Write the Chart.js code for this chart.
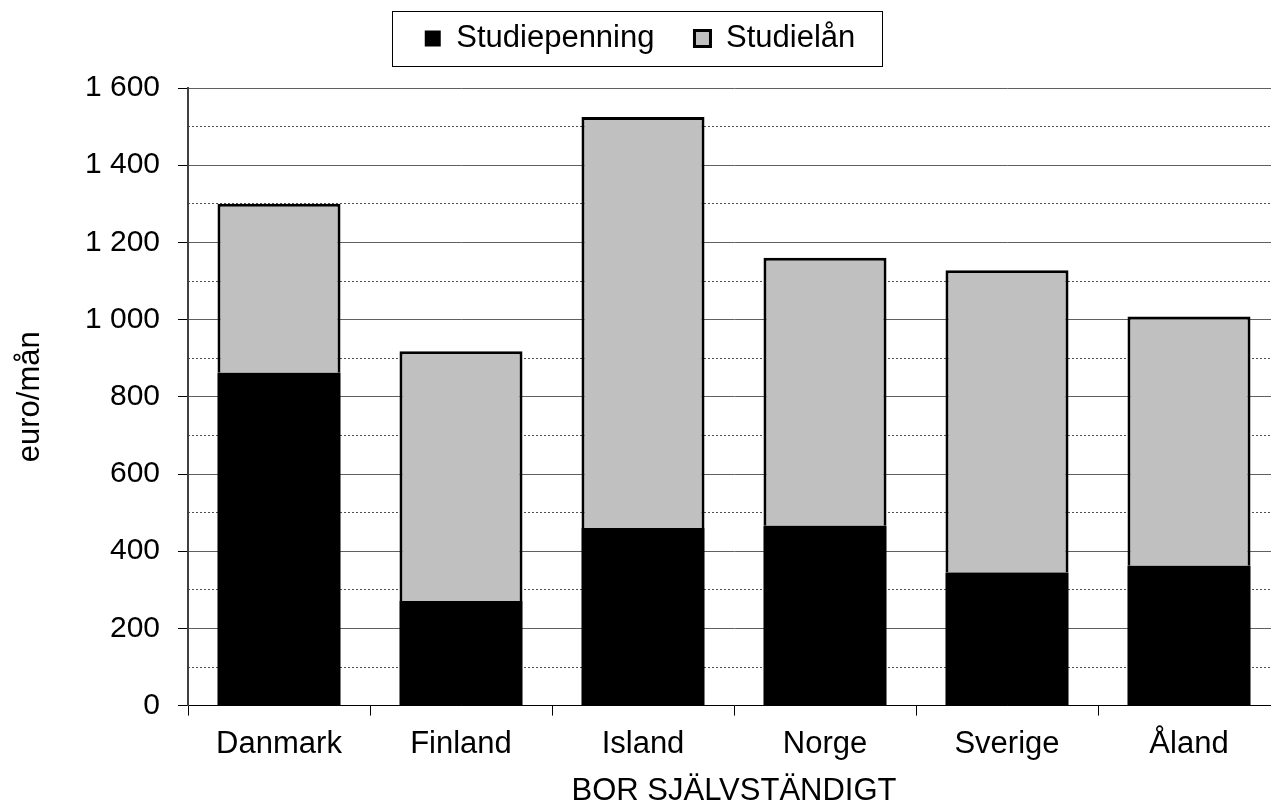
<!DOCTYPE html>
<html lang="sv">
<head>
<meta charset="utf-8">
<title>Studiestöd – bor självständigt</title>
<script src="https://cdn.jsdelivr.net/npm/chart.js@4.4.1/dist/chart.umd.min.js"></script>
<style>
  html, body { margin: 0; padding: 0; background: #fff; overflow: hidden; }
  #wrap { width: 1280px; height: 805px; }
</style>
</head>
<body>
<div id="wrap"><canvas id="studyChart" width="1280" height="805"></canvas></div>
<script>
// Data (euro per month)
const countries = ['Danmark', 'Finland', 'Island', 'Norge', 'Sverige', 'Åland'];
const studiepenning = [862, 271, 460, 466, 345, 362];
const studielan = [438, 647, 1065, 694, 783, 646];

const seriesNames = ['Studiepenning', 'Studielån'];
const yTitle = 'euro/mån';
const xTitle = 'BOR SJÄLVSTÄNDIGT';
const yMin = 0;
const yMax = 1600;
const yMajorStep = 200;
const yMinorStep = 100;

Chart.defaults.font.family = "'Liberation Sans', Arial, sans-serif";
Chart.defaults.font.size = 31;
Chart.defaults.color = '#000';

// Thousands with a space, like "1 600"
function formatTick(value) {
  return String(value).replace(/\B(?=(\d{3})+(?!\d))/g, ' ');
}

// Move legend up a bit and draw a frame around it
const legendFrame = {
  id: 'legendFrame',
  afterLayout(chart) {
    const legend = chart.legend;
    legend.top -= 24;
    legend.bottom -= 24;
  },
  afterDraw(chart) {
    const legend = chart.legend;
    const boxes = legend.legendHitBoxes;
    if (!boxes || !boxes.length) return;
    const pad = legend.options.labels.padding;
    const cy = legend.top + pad + 15;
    const first = boxes[0];
    const last = boxes[boxes.length - 1];
    const ctx = chart.ctx;
    ctx.save();
    ctx.strokeStyle = '#000';
    ctx.lineWidth = 1;
    ctx.strokeRect(Math.round(first.left - 33) + 0.5, Math.round(cy - 27) + 0.5,
      Math.round(last.left + last.width - first.left + 60), 55);
    ctx.restore();
  }
};

const ctx = document.getElementById('studyChart');

new Chart(ctx, {
  type: 'bar',
  data: {
    labels: countries,
    datasets: [
      {
        label: seriesNames[0],
        data: studiepenning,
        backgroundColor: '#000000',
        borderColor: '#000000',
        borderWidth: 0
      },
      {
        label: seriesNames[1],
        data: studielan,
        backgroundColor: '#c0c0c0',
        borderColor: '#000000',
        borderWidth: 3
      }
    ]
  },
  options: {
    responsive: false,
    animation: false,
    barPercentage: 0.676,
    categoryPercentage: 1,
    layout: { padding: { top: 7, left: 0, right: 0, bottom: 0 } },
    plugins: {
      tooltip: { enabled: false },
      legend: {
        position: 'top',
        labels: {
          boxWidth: 16,
          boxHeight: 16,
          padding: 40,
          font: { size: 31 }
        }
      }
    },
    scales: {
      x: {
        stacked: true,
        grid: {
          offset: true,
          drawOnChartArea: false,
          tickLength: 10,
          tickColor: '#000'
        },
        border: { color: '#000', width: 1 },
        ticks: { padding: 10, font: { size: 31 } },
        title: {
          display: true,
          text: xTitle,
          font: { size: 31 },
          padding: { top: 0, bottom: -5 }
        }
      },
      y: {
        stacked: true,
        min: yMin,
        max: yMax,
        ticks: {
          stepSize: yMajorStep,
          padding: 18,
          font: { size: 30 },
          callback: formatTick
        },
        grid: {
          color: '#606060',
          lineWidth: 1,
          tickLength: 10,
          tickColor: '#000'
        },
        border: { color: '#404040', width: 2 },
        title: {
          display: true,
          text: yTitle,
          font: { size: 31 },
          padding: { top: 12, bottom: 0 }
        },
        afterFit(scale) {
          scale.width = 188;
        }
      },
      // minor dotted grid lines at the odd hundreds
      yMinor: {
        position: 'right',
        min: yMin,
        max: yMax,
        ticks: { display: false, stepSize: yMinorStep },
        grid: {
          drawTicks: false,
          lineWidth: 1,
          color: c => (c.tick && c.tick.value % yMajorStep === 0) ? 'rgba(0,0,0,0)' : '#505050'
        },
        border: { display: false, dash: [2, 2] },
        afterFit(scale) {
          scale.width = 0;
        }
      }
    }
  },
  plugins: [legendFrame]
});
</script>
</body>
</html>
